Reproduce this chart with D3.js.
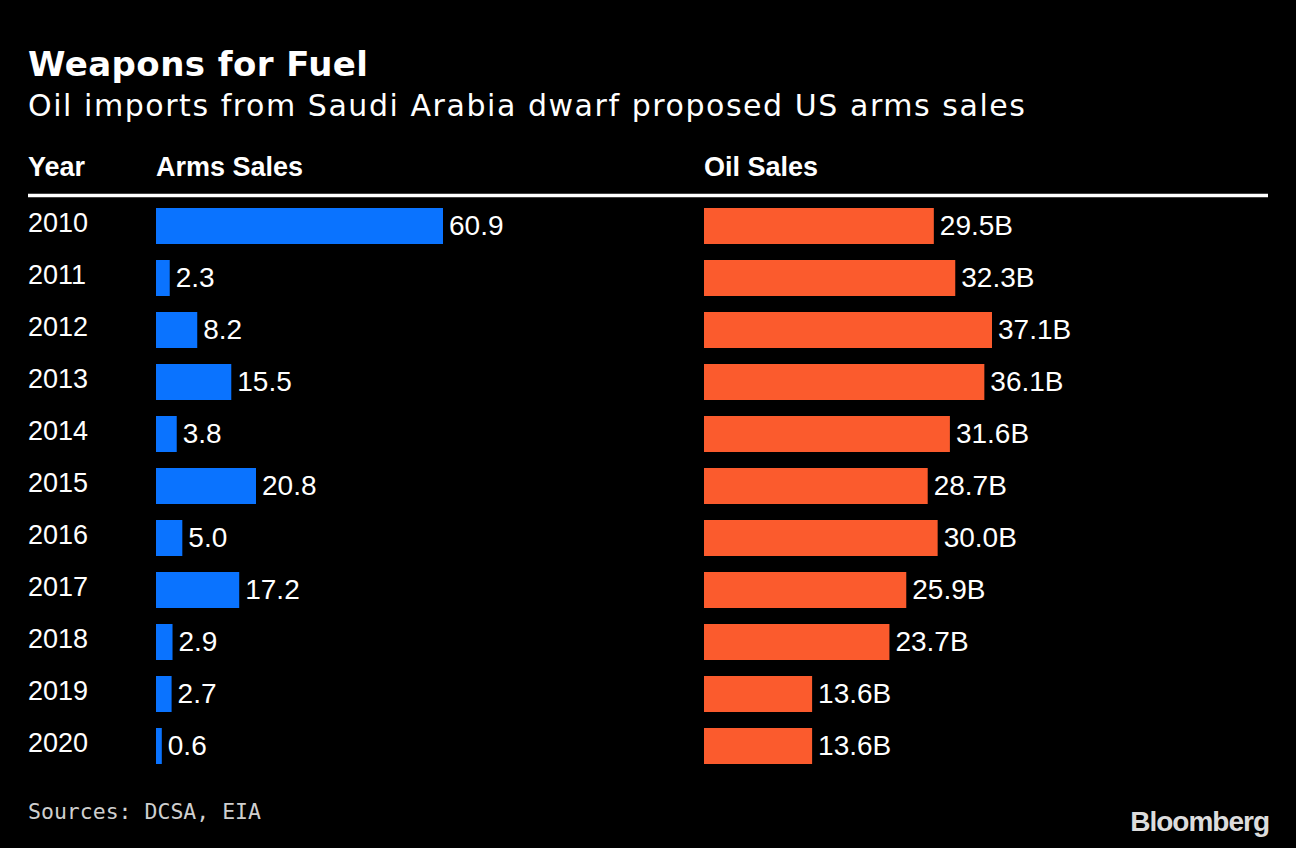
<!DOCTYPE html>
<html>
  <head>
    <meta charset="utf-8" />
    <style>
      html,
      body {
        margin: 0;
        padding: 0;
        background: #000;
      }
      svg {
        display: block;
      }
      .title {
        font-family: "DejaVu Sans", sans-serif;
        font-weight: bold;
        font-size: 34px;
        fill: #fff;
      }
      .subtitle {
        font-family: "DejaVu Sans", sans-serif;
        font-size: 30px;
        fill: #fff;
      }
      .head {
        font-family: "Liberation Sans", Arial, sans-serif;
        font-weight: bold;
        font-size: 27px;
        fill: #fff;
      }
      .year,
      .val {
        font-family: "Liberation Sans", Arial, sans-serif;
        font-size: 27px;
        fill: #fff;
      }
      .val {
        font-size: 28px;
      }
      .source {
        font-family: "DejaVu Sans Mono", monospace;
        font-size: 21.5px;
        fill: #cfcfcf;
      }
      .logo {
        font-family: "Liberation Sans", Arial, sans-serif;
        font-weight: bold;
        font-size: 28px;
        letter-spacing: -1px;
        fill: #dcdcdc;
      }
    </style>
  </head>
  <body>
    <svg></svg>

    <script src="https://d3js.org/d3.v7.min.js"></script>
    <script>
      let width = 1296,
        height = 848;

      // values
      let years = ["2010", "2011", "2012", "2013", "2014", "2015", "2016", "2017", "2018", "2019", "2020"];
      let armsSales = [60.9, 2.3, 8.2, 15.5, 3.8, 20.8, 5.0, 17.2, 2.9, 2.7, 0.6];
      let oilSales = [29.5, 32.3, 37.1, 36.1, 31.6, 28.7, 30.0, 25.9, 23.7, 13.6, 13.6];

      let rows = years.map((y, i) => ({ year: y, arms: armsSales[i], oil: oilSales[i] }));

      let svg = d3.select("svg").attr("width", width).attr("height", height);

      svg.append("rect").attr("width", width).attr("height", height).attr("fill", "#000");

      // titles
      svg
        .append("text")
        .attr("class", "title")
        .attr("x", 28)
        .attr("y", 76)
        .attr("textLength", 340)
        .attr("lengthAdjust", "spacing")
        .text("Weapons for Fuel");
      svg
        .append("text")
        .attr("class", "subtitle")
        .attr("x", 28)
        .attr("y", 116)
        .attr("textLength", 997)
        .attr("lengthAdjust", "spacing")
        .text("Oil imports from Saudi Arabia dwarf proposed US arms sales");

      // column heads
      let armsX0 = 156,
        oilX0 = 704;
      svg.append("text").attr("class", "head").attr("x", 28).attr("y", 176).text("Year");
      svg.append("text").attr("class", "head").attr("x", armsX0).attr("y", 176).text("Arms Sales");
      svg.append("text").attr("class", "head").attr("x", oilX0).attr("y", 176).text("Oil Sales");

      svg
        .append("line")
        .attr("x1", 28)
        .attr("x2", 1268)
        .attr("y1", 195.5)
        .attr("y2", 195.5)
        .attr("stroke", "#fff")
        .attr("stroke-width", 3.5);

      // scales
      let y = d3
        .scaleBand()
        .domain(years)
        .range([200, 200 + 52 * years.length])
        .paddingInner(16 / 52)
        .paddingOuter(8 / 52);

      let xArms = d3.scaleLinear().domain([0, d3.max(armsSales)]).range([armsX0 + 3, 443]);
      let xOil = d3.scaleLinear().domain([0, d3.max(oilSales)]).range([oilX0 + 4, 992]);

      let fmt = d3.format(".1f");

      let row = svg
        .append("g")
        .attr("id", "rows")
        .selectAll("g")
        .data(rows)
        .enter()
        .append("g")
        .attr("transform", (d) => "translate(0," + y(d.year) + ")");

      row
        .append("text")
        .attr("class", "year")
        .attr("x", 28)
        .attr("y", 24)
        .text((d) => d.year);

      // arms bars
      row
        .append("rect")
        .attr("x", armsX0)
        .attr("y", 0)
        .attr("width", (d) => xArms(d.arms) - armsX0)
        .attr("height", y.bandwidth())
        .attr("fill", "#0a73ff");
      row
        .append("text")
        .attr("class", "val")
        .attr("x", (d) => xArms(d.arms) + 6)
        .attr("y", 27)
        .text((d) => fmt(d.arms));

      // oil bars
      row
        .append("rect")
        .attr("x", oilX0)
        .attr("y", 0)
        .attr("width", (d) => xOil(d.oil) - oilX0)
        .attr("height", y.bandwidth())
        .attr("fill", "#fb5b2d");
      row
        .append("text")
        .attr("class", "val")
        .attr("x", (d) => xOil(d.oil) + 6)
        .attr("y", 27)
        .text((d) => fmt(d.oil) + "B");

      // footer
      svg.append("text").attr("class", "source").attr("x", 28).attr("y", 819).text("Sources: DCSA, EIA");
      svg
        .append("text")
        .attr("class", "logo")
        .attr("x", 1269)
        .attr("y", 831)
        .attr("text-anchor", "end")
        .text("Bloomberg");
    </script>
  </body>
</html>
